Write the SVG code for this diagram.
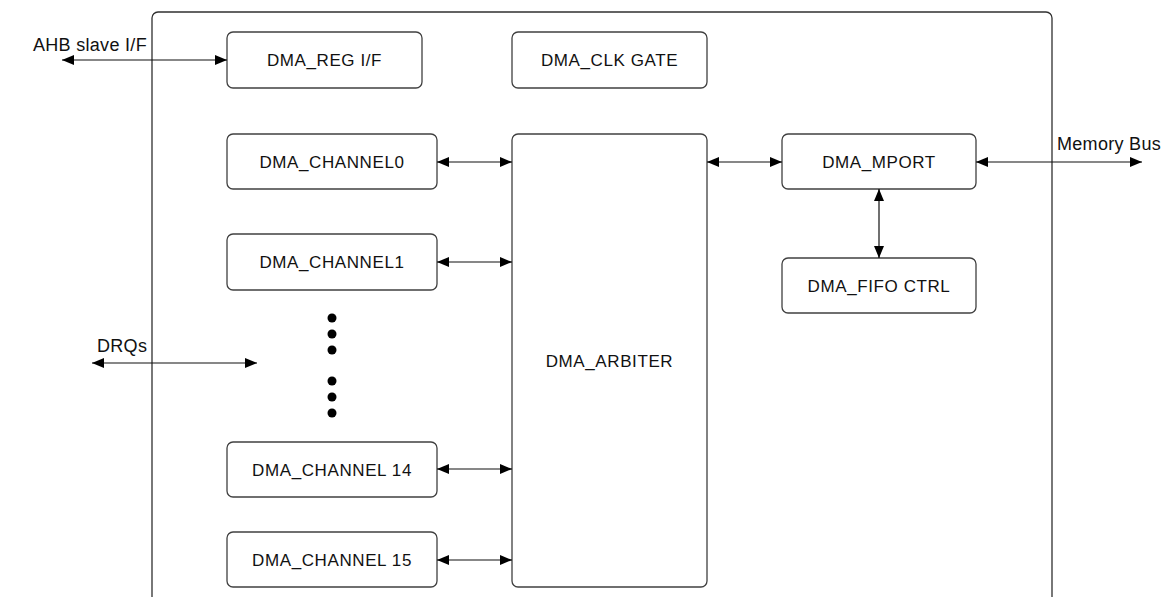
<svg xmlns="http://www.w3.org/2000/svg" width="1174" height="597" viewBox="0 0 1174 597">
<style>
.box{fill:#fff;stroke:#404040;stroke-width:1.3}
.outer{fill:none;stroke:#303030;stroke-width:1.3}
.t{font-family:"Liberation Sans",Arial,sans-serif;font-size:17px;fill:#111;text-anchor:middle;letter-spacing:0.6px}
.lbl{font-family:"Liberation Sans",Arial,sans-serif;font-size:18px;fill:#111;letter-spacing:0.3px}
.c{stroke:#111;stroke-width:1.2;fill:none;marker-start:url(#ah);marker-end:url(#ah)}
.dot{fill:#000}
</style>
<defs>
<marker id="ah" markerUnits="userSpaceOnUse" markerWidth="12" markerHeight="10" viewBox="0 0 12 10" refX="12" refY="5" orient="auto-start-reverse">
<path d="M0,0 L12,5 L0,10 z" fill="#000"/>
</marker>
</defs>
<rect class="outer" x="152" y="12" width="900" height="620" rx="6"/>
<g id="reg_if"><rect class="box" x="227" y="32" width="195" height="56" rx="6"/><text class="t" x="324.5" y="66">DMA_REG I/F</text></g>
<g id="clk_gate"><rect class="box" x="512" y="32" width="195" height="56" rx="6"/><text class="t" x="609.5" y="66">DMA_CLK GATE</text></g>
<g id="ch0"><rect class="box" x="227" y="134" width="210" height="55" rx="6"/><text class="t" x="332" y="168">DMA_CHANNEL0</text></g>
<g id="ch1"><rect class="box" x="227" y="234" width="210" height="56" rx="6"/><text class="t" x="332" y="268">DMA_CHANNEL1</text></g>
<g id="ch14"><rect class="box" x="227" y="442" width="210" height="55" rx="6"/><text class="t" x="332" y="476">DMA_CHANNEL 14</text></g>
<g id="ch15"><rect class="box" x="227" y="532" width="210" height="55" rx="6"/><text class="t" x="332" y="566">DMA_CHANNEL 15</text></g>
<g id="arbiter"><rect class="box" x="512" y="134" width="195" height="453" rx="6"/><text class="t" x="609.5" y="367">DMA_ARBITER</text></g>
<g id="mport"><rect class="box" x="782" y="134" width="194" height="55" rx="6"/><text class="t" x="879" y="168">DMA_MPORT</text></g>
<g id="fifo"><rect class="box" x="782" y="258" width="194" height="55" rx="6"/><text class="t" x="879" y="292">DMA_FIFO CTRL</text></g>
<g id="dots">
<circle class="dot" cx="332" cy="318" r="4.5"/><circle class="dot" cx="332" cy="334" r="4.5"/><circle class="dot" cx="332" cy="350" r="4.5"/>
<circle class="dot" cx="332" cy="381" r="4.5"/><circle class="dot" cx="332" cy="397" r="4.5"/><circle class="dot" cx="332" cy="413" r="4.5"/>
</g>
<g id="labels">
<text class="lbl" x="33" y="51">AHB slave I/F</text>
<text class="lbl" x="97" y="352">DRQs</text>
<text class="lbl" x="1057" y="150">Memory Bus</text>
</g>
<g id="connectors">
<line class="c" x1="62" y1="60" x2="227" y2="60"/>
<line class="c" x1="437" y1="162" x2="512" y2="162"/>
<line class="c" x1="437" y1="262" x2="512" y2="262"/>
<line class="c" x1="437" y1="469" x2="512" y2="469"/>
<line class="c" x1="437" y1="560" x2="512" y2="560"/>
<line class="c" x1="707" y1="162" x2="782" y2="162"/>
<line class="c" x1="976" y1="162" x2="1142" y2="162"/>
<line class="c" x1="879" y1="189" x2="879" y2="258"/>
<line class="c" x1="92" y1="363" x2="257" y2="363"/>
</g>
</svg>
